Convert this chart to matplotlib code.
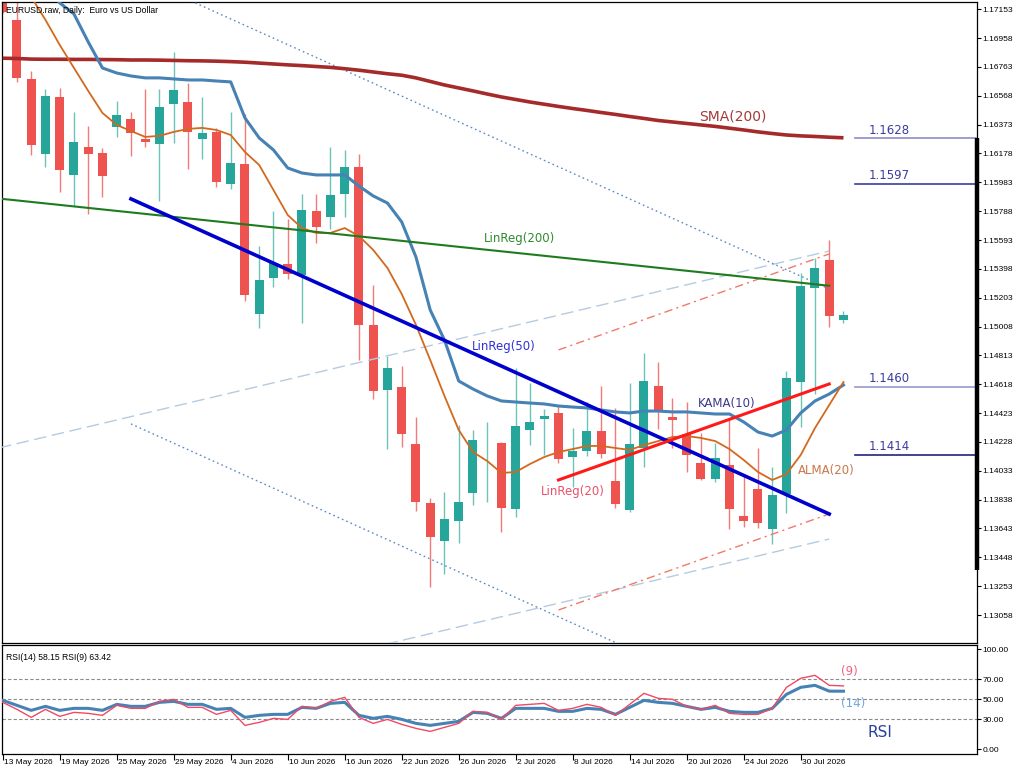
import matplotlib
matplotlib.use("Agg")
import matplotlib.pyplot as plt
import matplotlib.transforms as mtransforms

# daily bars, 13 May 2026 .. 4 Aug 2026
opens = [1.17350, 1.17081, 1.16682, 1.16175, 1.16560, 1.16033, 1.16222, 1.16182, 1.16357, 1.16411,
         1.16276, 1.16242, 1.16513, 1.16526, 1.16276, 1.16324, 1.15972, 1.16107, 1.15093, 1.15336,
         1.15431, 1.15357, 1.15789, 1.15749, 1.15904, 1.16087, 1.15019, 1.14579, 1.14600, 1.14214,
         1.13815, 1.13559, 1.13694, 1.13883, 1.14218, 1.14221, 1.13775, 1.14309, 1.14383, 1.14424,
         1.14126, 1.14167, 1.14302, 1.13964, 1.13768, 1.14187, 1.14606, 1.14397, 1.14282, 1.14086,
         1.13977, 1.14072, 1.13727, 1.13910, 1.13639, 1.13876, 1.14633, 1.15269, 1.15458, 1.15052]
highs = [1.17450, 1.17205, 1.16736, 1.16614, 1.16621, 1.16459, 1.16364, 1.16215, 1.16533, 1.16459,
         1.16614, 1.16614, 1.16864, 1.16655, 1.16560, 1.16351, 1.16459, 1.16445, 1.15553, 1.15789,
         1.15735, 1.15904, 1.15904, 1.16222, 1.16202, 1.16175, 1.15289, 1.14809, 1.14741, 1.14397,
         1.13849, 1.13890, 1.14343, 1.14309, 1.14363, 1.14228, 1.14728, 1.14627, 1.14451, 1.14478,
         1.14322, 1.14498, 1.14606, 1.14458, 1.14627, 1.14829, 1.14768, 1.14525, 1.14498, 1.14288,
         1.14221, 1.14383, 1.14011, 1.14187, 1.14059, 1.14708, 1.15370, 1.15472, 1.15593, 1.15113]
lows = [1.17130, 1.16662, 1.16168, 1.16087, 1.15918, 1.15823, 1.15769, 1.15884, 1.16290, 1.16161,
        1.16222, 1.15857, 1.16249, 1.16073, 1.16141, 1.15952, 1.15938, 1.15181, 1.14998, 1.15276,
        1.15330, 1.15032, 1.15573, 1.15668, 1.15749, 1.14782, 1.14518, 1.14180, 1.14194, 1.13761,
        1.13247, 1.13335, 1.13545, 1.13802, 1.13822, 1.13619, 1.13720, 1.14207, 1.14140, 1.14086,
        1.13923, 1.14133, 1.14120, 1.13781, 1.13754, 1.14059, 1.14316, 1.14187, 1.14025, 1.13971,
        1.13957, 1.13639, 1.13653, 1.13646, 1.13538, 1.13748, 1.14329, 1.14552, 1.15005, 1.15032]
closes = [1.17135, 1.16689, 1.16236, 1.16567, 1.16067, 1.16256, 1.16175, 1.16026, 1.16438, 1.16317,
          1.16256, 1.16493, 1.16608, 1.16324, 1.16317, 1.15985, 1.16114, 1.15222, 1.15323, 1.15438,
          1.15363, 1.15796, 1.15681, 1.15898, 1.16087, 1.15019, 1.14572, 1.14728, 1.14282, 1.13822,
          1.13585, 1.13707, 1.13822, 1.14241, 1.14224, 1.13781, 1.14336, 1.14363, 1.14403, 1.14113,
          1.14167, 1.14302, 1.14147, 1.13808, 1.14214, 1.14640, 1.14430, 1.14376, 1.14140, 1.13977,
          1.14119, 1.13775, 1.13694, 1.13680, 1.13869, 1.14660, 1.15282, 1.15404, 1.15080, 1.15086]

sma200 = [1.16822, 1.16820, 1.16816, 1.16815, 1.16815, 1.16814, 1.16814, 1.16813, 1.16812, 1.16810,
          1.16810, 1.16809, 1.16807, 1.16805, 1.16804, 1.16802, 1.16799, 1.16795, 1.16789, 1.16783,
          1.16777, 1.16772, 1.16766, 1.16760, 1.16751, 1.16741, 1.16729, 1.16717, 1.16707, 1.16689,
          1.16665, 1.16641, 1.16621, 1.16601, 1.16580, 1.16560, 1.16543, 1.16526, 1.16511, 1.16496,
          1.16482, 1.16469, 1.16455, 1.16442, 1.16428, 1.16415, 1.16401, 1.16391, 1.16381, 1.16371,
          1.16361, 1.16349, 1.16337, 1.16324, 1.16313, 1.16303, 1.16297, 1.16293, 1.16288, 1.16284]
kama10 = [1.17757, 1.17608, 1.17459, 1.17317, 1.17196, 1.17121, 1.16932, 1.16756, 1.16722, 1.16702,
          1.16689, 1.16689, 1.16682, 1.16675, 1.16675, 1.16668, 1.16662, 1.16418, 1.16283, 1.16202,
          1.16080, 1.16046, 1.16033, 1.16033, 1.16033, 1.15958, 1.15891, 1.15843, 1.15715, 1.15478,
          1.15120, 1.14917, 1.14640, 1.14586, 1.14539, 1.14505, 1.14498, 1.14491, 1.14485, 1.14471,
          1.14464, 1.14458, 1.14444, 1.14431, 1.14424, 1.14437, 1.14437, 1.14431, 1.14431, 1.14424,
          1.14417, 1.14417, 1.14363, 1.14295, 1.14268, 1.14309, 1.14424, 1.14505, 1.14552, 1.14613]
alma20 = [1.17554, 1.17399, 1.17236, 1.17081, 1.16912, 1.16756, 1.16601, 1.16452, 1.16371, 1.16330,
          1.16290, 1.16297, 1.16324, 1.16344, 1.16351, 1.16337, 1.16303, 1.16188, 1.16100, 1.15931,
          1.15762, 1.15674, 1.15641, 1.15641, 1.15674, 1.15620, 1.15526, 1.15404, 1.15228, 1.15019,
          1.14782, 1.14539, 1.14309, 1.14160, 1.14099, 1.14018, 1.14025, 1.14079, 1.14126, 1.14160,
          1.14180, 1.14201, 1.14201, 1.14187, 1.14174, 1.14207, 1.14234, 1.14261, 1.14268, 1.14255,
          1.14234, 1.14180, 1.14106, 1.14025, 1.13971, 1.14011, 1.14140, 1.14322, 1.14478, 1.14633]

rsi14 = [49, 44, 39, 43, 39, 41, 41, 39, 45, 43, 43, 47, 48, 45, 45, 40, 41, 32, 34, 35,
         35, 42, 41, 46, 47, 34, 31, 33, 30, 26, 24, 26, 28, 37, 36, 31, 41, 41, 41, 38,
         38, 41, 40, 35, 42, 49, 47, 46, 43, 40, 42, 38, 37, 37, 41, 55, 62, 64, 58.2, 58.15]
rsi9 = [47, 40, 32, 40, 33, 37, 36, 34, 44, 41, 41, 48, 50, 42, 42, 35, 39, 24, 27, 31,
        30, 43, 41, 48, 52, 32, 26, 30, 25, 21, 18, 22, 26, 38, 37, 30, 44, 45, 46, 39,
        41, 45, 42, 34, 45, 56, 51, 50, 43, 40, 44, 36, 35, 35, 41, 62, 71, 74, 64, 63.42]

# regression lines: (bar index, price) endpoints
linreg200 = [(-2, 1.15891), (58, 1.15284)]
linreg200_up = [(-2, 1.14148), (58, 1.15519)]
linreg200_dn = [(-2, 1.12201), (58, 1.13572)]
linreg50 = [(9, 1.15871), (58, 1.13741)]
linreg50_up = [(9, 1.17392), (58, 1.15262)]
linreg50_dn = [(9, 1.14350), (58, 1.12220)]
linreg20 = [(39, 1.13971), (58, 1.14620)]
linreg20_up = [(39, 1.14850), (58, 1.15499)]
linreg20_dn = [(39, 1.13092), (58, 1.13741)]

levels = [1.1628, 1.1597, 1.1460, 1.1414]
level_colors = ["#8c8cc8", "#3c3ca0", "#9898d0", "#22227e"]
range_bar = (1.13362, 1.1628)

price_ticks = [1.17153, 1.16958, 1.16763, 1.16568, 1.16373, 1.16178, 1.15983, 1.15788,
               1.15593, 1.15398, 1.15203, 1.15008, 1.14813, 1.14618, 1.14423, 1.14228,
               1.14033, 1.13838, 1.13643, 1.13448, 1.13253, 1.13058]
date_pos = [0, 4, 8, 12, 16, 20, 24, 28, 32, 36, 40, 44, 48, 52, 56]
date_labels = ["13 May 2026", "19 May 2026", "25 May 2026", "29 May 2026", "4 Jun 2026",
               "10 Jun 2026", "16 Jun 2026", "22 Jun 2026", "26 Jun 2026", "2 Jul 2026",
               "8 Jul 2026", "14 Jul 2026", "20 Jul 2026", "24 Jul 2026", "30 Jul 2026"]

UP = "#26a69a"
DOWN = "#ef5350"
SMALL = dict(family="Liberation Sans", fontsize=6.0)

XMIN, XMAX = -0.05, 68.37

fig = plt.figure(figsize=(10.24, 7.73), dpi=100)
ax = fig.add_axes([2 / 1024, 130 / 773, 975 / 1024, 641 / 773])
rax = fig.add_axes([2 / 1024, 19 / 773, 975 / 1024, 109 / 773])

# candles
for i in range(len(opens)):
    o, h, l, c = opens[i], highs[i], lows[i], closes[i]
    up = c >= o
    ax.vlines(i, l, h, color="#6cc4b8" if up else "#f27a77", lw=1.0, zorder=2)
    body = max(abs(c - o), 0.00006)
    ax.bar(i, body, bottom=min(o, c), width=0.63, color=UP if up else DOWN,
           edgecolor="none", zorder=2)

xs = list(range(len(opens)))


def seg(pts, **kw):
    ax.plot([p[0] for p in pts], [p[1] for p in pts], **kw)


seg(linreg200_up, color="#b4cbe2", lw=1.0, dashes=(9, 4), zorder=3)
seg(linreg200_dn, color="#b4cbe2", lw=1.0, dashes=(9, 4), zorder=3)
seg(linreg50_up, color="#5a8cc8", lw=1.0, dashes=(1.2, 2.2), zorder=3)
seg(linreg50_dn, color="#5a8cc8", lw=1.0, dashes=(1.2, 2.2), zorder=3)
seg(linreg20_up, color="#f07a6a", lw=1.0, dashes=(6, 3, 1.5, 3), zorder=3)
seg(linreg20_dn, color="#f07a6a", lw=1.0, dashes=(6, 3, 1.5, 3), zorder=3)

ax.plot(xs, sma200, color="#a52a2a", lw=2.6, solid_capstyle="butt", zorder=4)
ax.plot(xs, kama10, color="#4682b4", lw=2.2, zorder=4)
ax.plot(xs, alma20, color="#d2691e", lw=1.3, zorder=4)
seg(linreg200, color="#1e7b1e", lw=1.5, zorder=4)
seg(linreg50, color="#0000cd", lw=2.6, zorder=4)
seg(linreg20, color="#ff1a1a", lw=2.2, zorder=4)

# horizontal levels on the right
x_lvl = (855 - 2) / 975
for lv, col in zip(levels, level_colors):
    ax.axhline(lv, xmin=x_lvl, xmax=1, color=col, lw=1.2, zorder=4)
    ax.text(60.8, lv + 0.00012, "%.4f" % lv, color="#3c3ca0", fontsize=8.5,
            ha="left", va="bottom", zorder=5)

# range bar on the price scale
ax.plot([XMAX, XMAX], range_bar, color="black", lw=3.2, clip_on=False,
        solid_capstyle="butt", zorder=6)

ax.text(48.9, 1.16425, "SMA(200)", color="#a33a3a", fontsize=10, va="center", zorder=5)
ax.text(33.8, 1.15600, "LinReg(200)", color="#2e8b2e", fontsize=8.5, va="center", zorder=5)
ax.text(32.9, 1.14870, "LinReg(50)", color="#3030d8", fontsize=8.5, va="center", zorder=5)
ax.text(37.8, 1.13896, "LinReg(20)", color="#e8506a", fontsize=8.5, va="center", zorder=5)
ax.text(48.8, 1.14485, "KAMA(10)", color="#3a3a8a", fontsize=8.5, va="center", zorder=5)
ax.text(55.8, 1.14038, "ALMA(20)", color="#c8784a", fontsize=8.5, va="center", zorder=5)

ax.text(0.004, 0.994, "EURUSD.raw, Daily:  Euro vs US Dollar", transform=ax.transAxes,
        ha="left", va="top", color="black", zorder=6, **dict(SMALL, fontsize=6.2))

ax.set_xlim(XMIN, XMAX)
ax.set_ylim(1.12869, 1.17202)
ax.yaxis.tick_right()
ax.set_yticks(price_ticks)
ax.set_yticklabels(["%.5f" % t for t in price_ticks], **SMALL)
ax.tick_params(axis="y", direction="out", length=3, width=0.8, pad=1)
ax.set_xticks([])
for s in ax.spines.values():
    s.set_linewidth(0.9)

# RSI panel
for lv in [30, 50, 70]:
    rax.axhline(lv, color="#8a8a8a", lw=0.8, dashes=(3, 2), zorder=1)
rax.plot(xs, rsi14, color="#4682b4", lw=2.2, zorder=3)
rax.plot(xs, rsi9, color="#ee4a64", lw=1.0, zorder=4)
rax.text(0.004, 0.93, "RSI(14) 58.15 RSI(9) 63.42", transform=rax.transAxes,
         ha="left", va="top", color="black", **dict(SMALL, fontsize=6.2))
rax.text(58.8, 77.5, "(9)", color="#f06080", fontsize=8.5, va="center")
rax.text(58.8, 45.8, "(14)", color="#6fa6dc", fontsize=8.5, va="center")
rax.text(60.7, 17, "RSI", color="#2840a0", fontsize=11, va="center")

rax.set_xlim(XMIN, XMAX)
rax.set_ylim(-4.6, 104.3)
rax.yaxis.tick_right()
rax.set_yticks([0, 30, 50, 70, 100])
rax.set_yticklabels(["0.00", "30.00", "50.00", "70.00", "100.00"], **SMALL)
rax.tick_params(axis="y", direction="out", length=3, width=0.8, pad=1)
rax.set_xticks(date_pos)
rax.tick_params(axis="x", direction="out", length=4, width=0.8, labelbottom=False)
trans = mtransforms.blended_transform_factory(rax.transData, rax.transAxes)
for p, lab in zip(date_pos, date_labels):
    rax.text(p + 0.12, -0.045, lab, transform=trans, ha="left", va="top", **SMALL)
for s in rax.spines.values():
    s.set_linewidth(0.9)

fig.savefig("out.png", dpi=100, facecolor="white")
